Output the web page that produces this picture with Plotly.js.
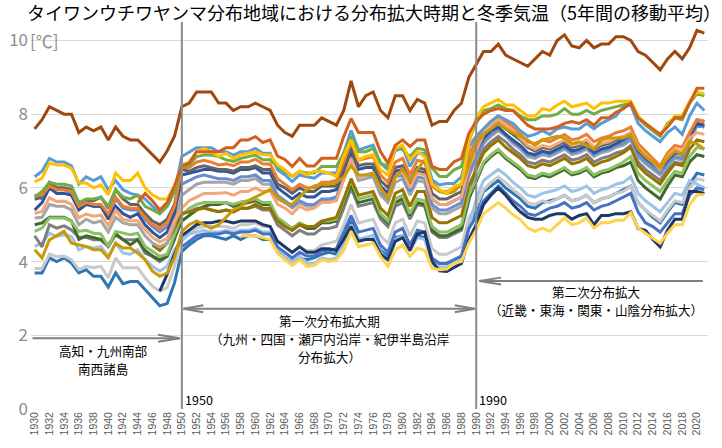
<!DOCTYPE html>
<html>
<head>
<meta charset="utf-8">
<script src="https://cdn.plot.ly/plotly-3.0.1.min.js"></script>
<style>
html,body{margin:0;padding:0;background:#fff;}
#chart{width:722px;height:448px;}
</style>
</head>
<body>
<div id="chart"></div>
<script>
// Categories: years 1930–2021
const years = Array.from({length: 92}, (_, i) => 1930 + i);
const tickYears = years.filter(y => y % 2 === 0 && y <= 2020);
const yTickVals = [0, 2, 4, 6, 8, 10];
const yTickText = ['0', '2', '4', '6', '8', '10'];

const N = null;
// Series values (5-year moving average winter temperature), 1930..2021
const s_brown = [
 7.6,7.85,8.2,8.1,8.0,8.0,7.5,7.65,7.55,7.65,
 7.3,7.65,7.4,7.3,7.3,7.1,6.9,6.7,7.0,7.4,
 8.2,8.3,8.6,8.6,8.6,8.3,8.3,8.1,8.2,8.2,
 8.3,8.2,8.1,7.7,7.5,7.4,7.7,7.7,7.7,7.9,
 7.8,7.7,8.1,8.9,8.2,8.5,8.6,8.1,7.9,8.5,
 8.5,8.1,8.4,8.3,7.7,7.8,7.8,8.1,8.3,9.0,
 9.35,9.7,9.7,9.9,9.6,9.5,9.4,9.3,9.5,9.7,
 9.6,10.0,10.15,9.85,9.8,10.0,9.8,9.9,9.9,10.1,
 10.1,10.0,9.7,9.6,9.4,9.2,9.5,9.7,9.5,9.8,
 10.27,10.2];
const s_darkorange = [
 N,N,N,N,N,N,N,N,N,N,
 N,N,N,N,5.6,5.85,5.65,5.4,5.6,6.05,
 6.6,6.67,6.98,6.98,6.98,6.98,7.09,7.09,7.3,7.3,
 7.39,7.23,7.3,6.86,6.77,6.58,6.8,6.59,6.59,6.8,
 6.8,6.8,7.39,7.88,7.5,7.5,7.5,6.98,6.67,7.16,
 7.3,7.12,7.3,7.3,6.58,6.5,6.5,6.71,6.8,7.48,
 7.8,8.0,8.1,8.15,8.1,8.1,7.9,7.7,7.6,7.6,
 7.6,7.65,7.75,7.8,7.75,7.85,7.7,7.9,7.9,8.05,
 8.15,8.3,7.9,7.75,7.6,7.45,7.65,7.9,7.9,8.3,
 8.7,8.7];
const s_yellow = [
 6.17,6.26,6.67,6.62,6.62,6.53,6.13,6.13,6.0,6.08,
 5.81,6.4,6.2,6.2,6.4,6.0,5.81,5.7,5.7,6.04,
 6.62,6.7,6.98,7.07,6.98,6.85,6.94,6.8,6.9,6.94,
 6.98,6.9,6.9,6.62,6.49,6.31,6.45,6.35,6.45,6.45,
 6.4,6.31,6.85,7.3,6.76,6.85,6.9,6.49,6.35,7.07,
 7.16,6.76,6.98,6.85,6.1,5.95,5.86,6.04,6.1,7.2,
 7.9,8.2,8.3,8.4,8.25,8.25,8.1,7.95,7.95,8.15,
 8.1,8.25,8.35,8.2,8.25,8.3,8.15,8.3,8.3,8.35,
 8.35,8.35,7.95,7.75,7.6,7.45,7.7,7.95,7.95,8.35,
 8.6,8.55];
const s_green = [
 5.75,5.9,6.15,6.1,6.1,6.05,5.6,5.7,5.7,5.75,
 5.5,5.95,5.75,5.7,5.8,5.5,5.4,5.3,5.5,5.9,
 6.58,6.62,6.85,6.89,6.89,6.85,6.76,6.72,6.8,6.85,
 6.89,6.76,6.76,6.58,6.45,6.31,6.45,6.4,6.4,6.58,
 6.58,6.58,6.94,7.39,6.98,6.98,7.07,6.67,6.58,7.12,
 7.03,6.85,7.07,7.03,6.54,6.31,6.31,6.49,6.58,7.3,
 7.75,8.1,8.15,8.25,8.15,8.1,7.95,7.85,7.85,7.95,
 7.95,8.0,8.15,8.0,8.0,8.1,8.0,8.1,8.15,8.2,
 8.25,8.3,7.9,7.7,7.55,7.4,7.75,7.9,7.85,8.3,
 8.55,8.5];
const s_lightblueA = [
 6.3,6.45,6.8,6.7,6.7,6.6,6.1,6.3,6.2,6.3,
 5.95,6.2,5.95,5.85,5.8,5.7,5.5,5.3,5.5,5.9,
 6.85,6.98,7.09,7.09,7.09,6.98,6.98,6.89,6.98,6.98,
 7.07,6.94,6.94,6.49,6.35,6.17,6.35,6.3,6.26,6.4,
 6.4,6.4,6.94,7.56,7.03,7.1,7.16,6.67,6.49,7.0,
 7.1,6.58,6.94,6.94,6.22,6.08,6.12,6.12,6.3,7.12,
 7.4,7.6,7.8,7.95,7.85,7.75,7.55,7.4,7.45,7.55,
 7.45,7.6,7.65,7.6,7.6,7.75,7.6,7.75,7.85,7.95,
 8.2,8.25,7.75,7.55,7.4,7.25,7.5,7.65,7.45,7.95,
 8.3,8.1];
const s_gold = [
 4.32,4.1,4.59,4.7,4.82,4.5,4.46,4.41,4.32,4.32,
 4.1,4.5,4.37,4.37,4.23,4.05,3.74,3.6,3.69,4.1,
 4.82,5.0,5.1,5.0,4.9,5.0,5.2,5.4,5.5,5.65,
 5.75,5.85,5.95,5.75,5.6,5.55,5.75,5.95,6.05,6.1,
 6.1,6.15,6.3,6.6,6.35,6.35,6.4,6.0,5.7,6.3,
 6.5,6.2,6.5,6.75,6.2,5.9,5.85,5.9,6.1,6.6,
 7.2,7.45,7.6,7.75,7.6,7.5,7.4,7.3,7.15,7.3,
 7.35,7.4,7.35,7.2,7.25,7.15,7.05,7.3,7.35,7.35,
 7.35,7.45,7.05,6.85,6.7,6.55,6.8,7.0,6.9,7.25,
 7.2,7.05];
const s_lightorange = [
 5.31,5.36,5.73,5.63,5.64,5.55,5.19,5.29,5.23,5.26,
 4.98,5.39,5.14,5.11,5.11,4.86,4.66,4.53,4.63,5.11,
 5.45,5.65,5.75,5.85,5.85,5.85,5.87,5.8,5.9,5.9,
 6.0,5.9,5.92,5.55,5.45,5.3,5.5,5.4,5.45,5.6,
 5.6,5.65,6.2,6.8,6.3,6.35,6.4,5.95,5.75,6.3,
 6.45,6.0,6.4,6.35,5.7,5.55,5.55,5.65,5.75,6.55,
 7.0,7.45,7.7,7.85,7.7,7.55,7.35,7.15,7.05,7.15,
 7.1,7.2,7.3,7.15,7.2,7.3,7.1,7.2,7.25,7.35,
 7.4,7.5,7.1,6.9,6.7,6.5,6.85,7.05,7.0,7.35,
 7.5,7.45];
const s_orange = [
 5.8,5.8,6.05,5.95,5.95,5.9,5.5,5.6,5.55,5.55,
 5.3,5.75,5.5,5.45,5.45,5.2,5.0,4.9,5.05,5.5,
 6.55,6.55,6.7,6.75,6.7,6.62,6.65,6.6,6.7,6.7,
 6.78,6.65,6.65,6.25,6.1,5.95,6.1,6.0,6.0,6.15,
 6.15,6.2,6.7,7.25,6.75,6.8,6.85,6.35,6.15,6.7,
 6.8,6.35,6.75,6.7,6.05,5.9,5.9,6.0,6.1,6.9,
 7.3,7.6,7.8,7.95,7.8,7.65,7.45,7.25,7.2,7.3,
 7.25,7.35,7.45,7.3,7.35,7.45,7.25,7.35,7.4,7.5,
 7.55,7.65,7.2,7.0,6.8,6.6,6.95,7.15,7.1,7.5,
 7.85,7.8];
const s_darkgray = [
 5.69,5.75,6.15,6.0,6.0,5.95,5.55,5.65,5.65,5.75,
 5.45,5.95,5.7,5.55,5.55,5.3,5.1,5.0,5.15,5.55,
 6.5,6.45,6.55,6.6,6.55,6.5,6.5,6.45,6.55,6.55,
 6.6,6.5,6.5,6.1,6.0,5.85,6.0,5.9,5.9,6.05,
 6.05,6.05,6.55,7.1,6.6,6.65,6.65,6.2,6.0,6.55,
 6.6,6.2,6.55,6.5,5.85,5.7,5.7,5.8,5.9,6.7,
 7.1,7.45,7.65,7.75,7.6,7.45,7.3,7.1,7.0,7.1,
 7.05,7.15,7.25,7.1,7.15,7.25,7.05,7.15,7.2,7.3,
 7.35,7.5,7.05,6.85,6.7,6.55,6.8,7.0,6.95,7.45,
 7.85,7.8];
const s_darkblue = [
 5.4,5.6,6.0,5.85,5.85,5.8,5.4,5.55,5.5,5.5,
 5.15,5.5,5.3,5.2,5.3,5.0,4.8,4.65,4.8,5.3,
 6.35,6.4,6.45,6.5,6.5,6.45,6.45,6.4,6.5,6.5,
 6.55,6.4,6.4,6.0,5.85,5.7,5.85,5.75,5.75,5.9,
 5.9,5.95,6.45,7.0,6.5,6.55,6.55,6.05,5.85,6.45,
 6.5,6.05,6.45,6.4,5.7,5.55,5.55,5.65,5.75,6.55,
 7.0,7.35,7.55,7.65,7.45,7.3,7.15,6.95,6.9,7.0,
 6.95,7.05,7.15,7.0,7.05,7.15,6.95,7.05,7.1,7.2,
 7.3,7.45,7.0,6.8,6.65,6.5,6.75,6.95,6.9,7.4,
 7.75,7.7];
const s_blueMid = [
 5.8,5.7,6.05,5.95,5.95,5.85,5.45,5.6,5.5,5.5,
 5.2,5.7,5.45,5.4,5.4,5.15,4.95,4.8,4.95,5.45,
 6.1,6.2,6.3,6.35,6.3,6.25,6.25,6.2,6.3,6.3,
 6.35,6.2,6.2,5.8,5.65,5.5,5.65,5.55,5.55,5.7,
 5.7,5.75,6.25,6.85,6.3,6.35,6.35,5.9,5.7,6.3,
 6.35,5.9,6.3,6.25,5.55,5.4,5.4,5.5,5.6,6.4,
 6.85,7.25,7.45,7.6,7.45,7.25,7.1,6.9,6.85,6.95,
 6.9,7.0,7.1,6.95,7.0,7.1,6.9,7.0,7.05,7.15,
 7.2,7.35,6.9,6.7,6.55,6.4,6.65,6.85,6.8,7.3,
 7.7,7.65];
const s_gray = [
 5.18,5.2,5.55,5.5,5.5,5.4,5.0,5.15,5.05,5.1,
 4.8,5.2,5.05,5.0,5.0,4.7,4.5,4.4,4.5,5.0,
 5.8,5.95,6.1,6.15,6.15,6.15,6.15,6.1,6.2,6.2,
 6.25,6.1,6.1,5.7,5.6,5.45,5.6,5.5,5.5,5.65,
 5.65,5.7,6.2,6.75,6.2,6.25,6.3,5.8,5.6,6.15,
 6.25,5.8,6.2,6.15,5.45,5.3,5.3,5.4,5.5,6.3,
 6.8,7.2,7.4,7.55,7.4,7.2,7.05,6.85,6.8,6.9,
 6.85,6.95,7.05,6.9,6.95,7.05,6.85,6.95,7.0,7.1,
 7.15,7.3,6.85,6.65,6.5,6.35,6.6,6.8,6.75,7.3,
 7.75,7.7];
const s_darkgold = [
 N,N,N,N,N,N,N,N,N,N,
 N,N,N,N,N,N,4.45,4.3,4.5,4.9,
 5.3,5.35,5.4,5.45,5.4,5.35,5.4,5.35,5.45,5.45,
 5.55,5.45,5.45,5.1,4.95,4.85,5.0,4.95,4.95,5.1,
 5.15,5.2,5.7,6.25,5.8,5.85,5.9,5.45,5.25,5.85,
 5.95,5.5,5.9,5.9,5.2,5.05,5.05,5.15,5.25,6.05,
 6.5,6.95,7.15,7.3,7.1,6.95,6.8,6.6,6.55,6.65,
 6.6,6.7,6.8,6.65,6.7,6.8,6.6,6.7,6.75,6.85,
 6.95,7.1,6.6,6.4,6.25,6.1,6.4,6.65,6.6,7.05,
 7.3,7.25];
const s_lightgreen = [
 4.82,4.91,5.18,5.18,5.18,5.09,4.82,4.85,4.77,4.75,
 4.41,4.82,4.77,4.73,4.77,4.41,4.28,4.14,4.2,4.7,
 5.25,5.45,5.55,5.6,5.6,5.6,5.6,5.55,5.62,5.65,
 5.7,5.6,5.6,5.2,5.05,4.9,5.05,4.95,4.95,5.1,
 5.1,5.15,5.65,6.2,5.7,5.75,5.8,5.3,5.1,5.7,
 5.8,5.3,5.7,5.65,4.95,4.8,4.8,4.9,5.0,5.8,
 6.25,6.7,6.9,7.05,6.85,6.7,6.55,6.35,6.3,6.4,
 6.35,6.45,6.55,6.4,6.45,6.55,6.35,6.45,6.5,6.6,
 6.7,6.85,6.4,6.2,6.05,5.9,6.2,6.45,6.4,6.85,
 7.1,7.05];
const s_darkgreen = [
 5.0,5.05,5.2,5.2,5.2,5.1,4.6,4.7,4.65,4.6,
 4.45,4.75,4.6,4.45,4.6,4.3,4.15,4.05,4.15,4.6,
 5.1,5.25,5.4,5.5,5.55,5.55,5.6,5.5,5.55,5.6,
 5.65,5.55,5.55,5.15,5.0,4.85,5.0,4.9,4.9,5.05,
 5.05,5.1,5.6,6.1,5.6,5.65,5.7,5.25,5.05,5.6,
 5.7,5.25,5.6,5.55,4.85,4.7,4.7,4.8,4.9,5.7,
 6.2,6.65,6.85,7.0,6.8,6.65,6.5,6.3,6.25,6.35,
 6.3,6.4,6.5,6.35,6.4,6.5,6.3,6.4,6.45,6.55,
 6.6,6.7,6.2,6.0,5.85,5.7,6.05,6.35,6.3,6.7,
 6.9,6.85];
const s_gray2 = [
 4.7,4.4,5.0,4.91,4.97,4.86,4.66,4.66,4.59,4.59,
 4.4,4.73,4.59,4.59,4.59,4.23,4.14,4.0,4.14,4.59,
 5.3,5.35,5.45,5.45,5.4,5.35,5.4,5.35,5.45,5.45,
 5.5,5.4,5.4,5.0,4.85,4.7,4.85,4.75,4.75,4.9,
 4.9,4.95,5.45,6.0,5.5,5.55,5.6,5.15,4.95,5.5,
 5.6,5.15,5.55,5.5,4.8,4.65,4.65,4.75,4.85,5.65,
 6.6,7.05,7.25,7.4,7.25,7.05,6.9,6.7,6.65,6.75,
 6.7,6.8,6.9,6.75,6.8,6.9,6.7,6.8,6.85,6.95,
 7.0,7.15,6.7,6.5,6.35,6.2,6.5,6.7,6.65,7.25,
 7.7,7.65];
const s_navy = [
 N,N,N,N,N,N,N,N,N,N,
 N,N,N,N,N,N,N,3.2,3.65,4.2,
 4.7,4.85,5.0,5.05,5.05,5.1,5.1,5.05,5.1,5.1,
 5.1,5.0,4.95,4.55,4.4,4.25,4.4,4.25,4.25,4.35,
 4.35,4.3,4.6,4.95,4.55,4.6,4.6,4.2,4.05,4.55,
 4.65,4.3,4.75,4.8,4.0,3.75,3.73,3.85,3.95,4.6,
 5.0,5.55,5.8,6.0,5.8,5.55,5.35,5.2,5.15,5.15,
 5.25,5.3,5.3,5.15,5.25,5.3,5.0,5.25,5.25,5.3,
 5.3,5.35,4.9,4.85,4.6,4.4,4.85,5.15,5.15,5.9,
 5.9,5.85];
const s_lightgray = [
 3.81,3.81,4.2,4.13,4.15,4.05,3.78,3.87,3.83,3.87,
 3.56,4.1,3.83,3.83,3.83,3.56,3.33,3.2,3.29,3.87,
 4.55,4.75,4.9,4.95,4.95,4.95,4.95,4.9,5.0,5.0,
 5.05,4.95,4.95,4.55,4.4,4.25,4.4,4.3,4.3,4.45,
 4.5,4.55,5.0,5.55,5.05,5.1,5.15,4.7,4.5,5.05,
 5.15,4.7,5.1,5.05,4.35,4.2,4.2,4.3,4.4,5.2,
 5.5,5.95,6.15,6.3,6.15,5.95,5.8,5.6,5.55,5.65,
 5.6,5.7,5.8,5.65,5.7,5.8,5.6,5.7,5.75,5.85,
 5.9,6.05,5.6,5.4,5.25,5.1,5.4,5.65,5.6,6.0,
 6.25,6.2];
const s_lightblueC = [
 4.41,4.5,4.77,4.68,4.73,4.68,4.32,4.41,4.37,4.41,
 4.14,4.5,4.23,4.2,4.32,4.05,3.87,3.74,3.87,4.32,
 4.6,4.75,4.8,4.85,4.8,4.8,4.85,4.8,4.85,4.85,
 4.9,4.8,4.8,4.35,4.15,4.0,4.15,3.95,3.95,4.1,
 4.05,4.1,4.5,5.0,4.6,4.65,4.7,4.25,4.05,4.6,
 4.7,4.3,4.65,4.6,3.95,3.85,3.85,3.95,4.05,4.9,
 5.7,6.2,6.35,6.5,6.35,6.15,6.0,5.8,5.75,5.85,
 5.9,5.95,6.05,5.9,5.95,6.05,5.85,5.95,6.0,6.1,
 6.15,6.3,5.85,5.65,5.5,5.35,5.6,5.85,5.8,6.2,
 6.1,6.0];
const s_blueLow = [
 3.69,3.69,4.1,4.0,4.1,3.96,3.69,3.78,3.6,3.6,
 3.31,3.69,3.4,3.46,3.46,3.24,3.0,2.8,2.86,3.42,
 4.27,4.45,4.6,4.7,4.7,4.65,4.6,4.7,4.6,4.7,
 4.7,4.6,4.6,4.3,4.1,4.0,4.1,4.05,4.1,4.2,
 4.25,4.2,4.7,5.1,4.6,4.65,4.7,4.3,4.15,4.65,
 4.7,4.3,4.7,4.65,4.05,3.95,3.95,4.05,4.15,4.9,
 5.4,5.9,6.05,6.2,6.0,5.85,5.7,5.5,5.45,5.6,
 5.65,5.7,5.8,5.65,5.7,5.8,5.6,5.7,5.75,5.85,
 5.95,6.05,5.6,5.4,5.2,5.05,5.35,5.6,5.55,6.1,
 6.4,6.35];
const s_blue2 = [
 N,N,N,N,N,N,N,N,N,N,
 N,N,N,N,N,N,N,N,N,N,
 4.4,4.55,4.7,4.75,4.75,4.75,4.8,4.75,4.8,4.8,
 4.85,4.75,4.75,4.4,4.25,4.1,4.25,4.15,4.15,4.3,
 4.3,4.35,4.8,5.25,4.8,4.85,4.9,4.45,4.25,4.8,
 4.9,4.45,4.85,4.8,4.1,3.95,3.95,4.05,4.15,4.9,
 5.2,5.65,5.85,6.05,5.85,5.65,5.5,5.3,5.25,5.35,
 5.45,5.5,5.6,5.45,5.5,5.6,5.4,5.5,5.55,5.65,
 5.75,5.85,5.35,5.05,4.95,4.8,5.05,5.3,5.3,5.8,
 6.0,5.95];
const s_yellow2 = [
 N,N,N,N,N,N,N,N,N,N,
 N,N,N,N,N,N,N,N,N,N,
 N,N,N,N,N,N,N,N,4.7,4.7,
 4.7,4.65,4.6,4.23,4.05,3.9,4.05,3.87,3.9,4.05,
 4.0,4.05,4.3,4.82,4.41,4.45,4.5,4.14,3.87,4.32,
 4.45,4.14,4.36,4.3,3.82,3.78,3.8,3.95,4.0,4.5,
 4.86,5.3,5.45,5.6,5.45,5.27,5.14,4.91,4.82,4.91,
 4.82,5.0,5.18,5.0,5.05,5.18,4.91,5.05,5.05,5.12,
 5.12,5.32,4.91,4.77,4.64,4.5,4.77,5.0,5.0,5.54,
 5.81,5.81];

const seriesList = [
  {name: '系列A', values: s_blueLow, color: '#2E75B6'},
  {name: '系列B', values: s_lightgray, color: '#C9C9C9'},
  {name: '系列C', values: s_lightblueC, color: '#9DC3E6'},
  {name: '系列D', values: s_blue2, color: '#4472C4'},
  {name: '系列E', values: s_navy, color: '#203864'},
  {name: '系列F', values: s_yellow2, color: '#FFD34D'},
  {name: '系列G', values: s_gray2, color: '#7F7F7F'},
  {name: '系列H', values: s_darkgreen, color: '#43682B'},
  {name: '系列I', values: s_lightgreen, color: '#8CC168'},
  {name: '系列J', values: s_darkgold, color: '#997300'},
  {name: '系列K', values: s_gray, color: '#A5A5A5'},
  {name: '系列L', values: s_blueMid, color: '#698ED0'},
  {name: '系列M', values: s_darkblue, color: '#2F5597'},
  {name: '系列N', values: s_darkgray, color: '#636363'},
  {name: '系列O', values: s_orange, color: '#ED7D31'},
  {name: '系列P', values: s_lightorange, color: '#F4A677'},
  {name: '系列Q', values: s_gold, color: '#C99A06'},
  {name: '系列R', values: s_lightblueA, color: '#5B9BD5'},
  {name: '系列S', values: s_green, color: '#70AD47'},
  {name: '系列T', values: s_yellow, color: '#FFC000'},
  {name: '系列U', values: s_darkorange, color: '#D2601A'},
  {name: '系列V', values: s_brown, color: '#9E480E'}
];

const traces = seriesList.map(s => ({
  type: 'scatter', mode: 'lines', name: s.name,
  x: years, y: s.values,
  line: {color: s.color, width: 3},
  connectgaps: false, hoverinfo: 'skip'
}));

const FONT = '"Noto Sans CJK JP", "Noto Sans", sans-serif';
const ARROW = '#808080';

// arrow geometry (annotation decorations)
const pxX = 7.3625, pxY = 37;
function chevron(tipX, tipY, dir, len, half) {
  const bx = tipX - dir * len / pxX;
  const dy = half / pxY;
  return `M ${bx},${tipY + dy} L ${tipX},${tipY} L ${bx},${tipY - dy}`;
}
const shapes = [
  {type: 'line', xref: 'x', yref: 'paper', x0: 1950, x1: 1950, y0: 0, y1: 1, line: {color: '#8c8c8c', width: 2}},
  {type: 'line', xref: 'x', yref: 'paper', x0: 1990, x1: 1990, y0: 0, y1: 1, line: {color: '#8c8c8c', width: 2}},
  // arrow 1
  {type: 'line', xref: 'x', yref: 'y', x0: 1929.7, x1: 1949.75, y0: 1.92, y1: 1.92, line: {color: ARROW, width: 2}},
  {type: 'path', xref: 'x', yref: 'y', path: chevron(1949.75, 1.92, 1, 22, 3.5), line: {color: ARROW, width: 2}},
  // arrow 2 (double)
  {type: 'line', xref: 'x', yref: 'y', x0: 1950.2, x1: 1989.8, y0: 2.72, y1: 2.72, line: {color: ARROW, width: 2}},
  {type: 'path', xref: 'x', yref: 'y', path: chevron(1950.2, 2.72, -1, 20, 3.5), line: {color: ARROW, width: 2}},
  {type: 'path', xref: 'x', yref: 'y', path: chevron(1989.8, 2.72, 1, 20, 3.5), line: {color: ARROW, width: 2}},
  // arrow 3
  {type: 'line', xref: 'x', yref: 'y', x0: 1990.4, x1: 2020.8, y0: 3.47, y1: 3.47, line: {color: ARROW, width: 2}},
  {type: 'path', xref: 'x', yref: 'y', path: chevron(1990.4, 3.47, -1, 22, 3.5), line: {color: ARROW, width: 2}}
];

const annFont = {family: FONT, size: 12.6, color: '#000'};
function textLine(x, y, text) {
  return {xref: 'x', yref: 'y', x: x, y: y, text: text, showarrow: false,
          font: annFont, align: 'center', borderpad: 0};
}
const annotations = [
  textLine(1939.3, 1.6, '高知・九州南部'),
  textLine(1939.3, 1.105, '南西諸島'),
  textLine(1970.0, 2.41, '第一次分布拡大期'),
  textLine(1970.0, 1.92, '（九州・四国・瀬戸内沿岸・紀伊半島沿岸'),
  textLine(1970.0, 1.43, '分布拡大）'),
  textLine(2006.3, 3.19, '第二次分布拡大'),
  textLine(2006.3, 2.71, '（近畿・東海・関東・山陰分布拡大）'),
  {xref: 'x', yref: 'y', x: 1950, y: 0.27, xanchor: 'left', xshift: 2, text: '1950', showarrow: false, font: annFont, borderpad: 0},
  {xref: 'x', yref: 'y', x: 1990, y: 0.27, xanchor: 'left', xshift: 2, text: '1990', showarrow: false, font: annFont, borderpad: 0},
  {xref: 'paper', yref: 'y', x: 0, y: 10, xanchor: 'left', xshift: -2, text: '[℃]', showarrow: false, font: {family: FONT, size: 17, color: '#8c8c8c'}, borderpad: 0}
];

const layout = {
  width: 722, height: 448,
  margin: {l: 31, r: 14, t: 21.5, b: 38.5},
  paper_bgcolor: '#fff', plot_bgcolor: '#fff',
  showlegend: false,
  title: {
    text: 'タイワンウチワヤンマ分布地域における分布拡大時期と冬季気温（5年間の移動平均）',
    font: {family: FONT, size: 18, color: '#000'},
    x: 27 / 722, xanchor: 'left', xref: 'container',
    y: 1 - 14 / 448, yanchor: 'middle', yref: 'container'
  },
  xaxis: {
    range: [1929.5, 2021.5], tickmode: 'array', tickvals: tickYears,
    ticktext: tickYears.map(String), tickangle: -90,
    tickfont: {family: '"Liberation Sans", Arial, sans-serif', size: 10.5, color: '#595959'},
    showgrid: false, zeroline: false, showline: false, ticks: ''
  },
  yaxis: {
    range: [0, 10.5], tickmode: 'array', tickvals: yTickVals, ticktext: yTickText,
    tickfont: {family: FONT, size: 17, color: '#8c8c8c'},
    showgrid: true, gridcolor: '#d9d9d9', gridwidth: 1,
    zeroline: false, showline: false, ticks: '', ticklabelstandoff: 2
  },
  shapes: shapes,
  annotations: annotations
};

Plotly.newPlot('chart', traces, layout, {staticPlot: true, displayModeBar: false});
</script>
</body>
</html>
